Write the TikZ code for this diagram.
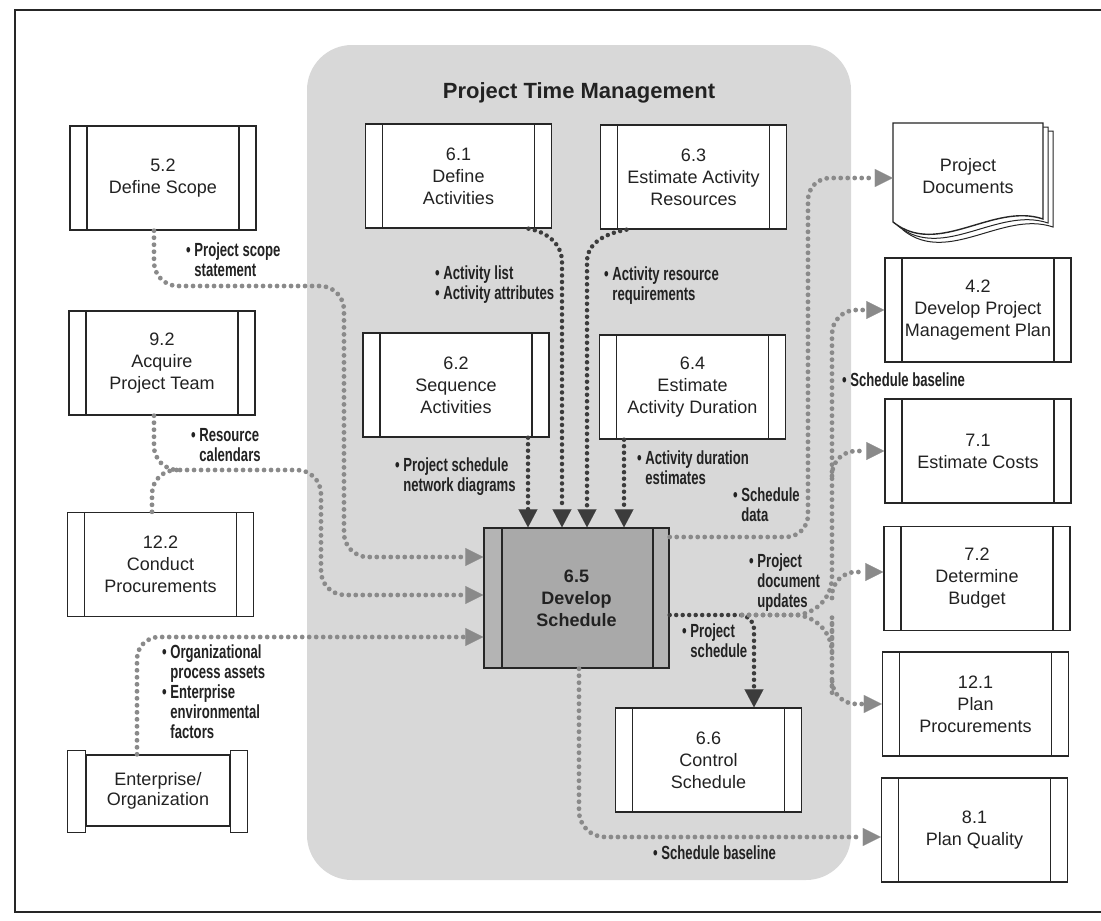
\documentclass[tikz,border=0pt]{standalone}
\usepackage{fontspec}
\setmainfont{Liberation Sans}
\newfontfamily\labfont{Liberation Sans}[FakeStretch=0.69]
\usetikzlibrary{arrows.meta,calc}
\definecolor{bg}{HTML}{D8D8D8}
\definecolor{ln}{HTML}{262626}
\definecolor{dk}{HTML}{3C3C3C}
\definecolor{gy}{HTML}{8A8A8A}
\definecolor{sc}{HTML}{A9A9A9}
\definecolor{scbar}{HTML}{B4B4B4}
\definecolor{txt}{HTML}{222222}
\begin{document}
\begin{tikzpicture}[x=1pt,y=-1pt,
 proc/.style={draw=ln, line width=1.4pt, fill=white, minimum width=186pt, minimum height=104pt,
   inner sep=0pt, align=center, text=txt, font=\fontsize{18}{22}\selectfont,
   path picture={
     \draw[ln, line width=1.4pt] ([xshift=17pt]path picture bounding box.north west) -- ([xshift=17pt]path picture bounding box.south west);
     \draw[ln, line width=1.4pt] ([xshift=-17pt]path picture bounding box.north east) -- ([xshift=-17pt]path picture bounding box.south east);}},
 proccore/.style={draw=ln, line width=1.4pt, fill=sc, minimum width=185pt, minimum height=140pt,
   inner sep=0pt, align=center, text=txt, font=\bfseries\fontsize{18}{22}\selectfont,
   path picture={
     \fill[scbar] (path picture bounding box.north west) rectangle ([xshift=18pt]path picture bounding box.south west);
     \fill[scbar] ([xshift=-16pt]path picture bounding box.north east) rectangle (path picture bounding box.south east);
     \draw[ln, line width=1.4pt] ([xshift=18pt]path picture bounding box.north west) -- ([xshift=18pt]path picture bounding box.south west);
     \draw[ln, line width=1.4pt] ([xshift=-16pt]path picture bounding box.north east) -- ([xshift=-16pt]path picture bounding box.south east);}},
 lab/.style={anchor=west, align=left, inner sep=0pt, text=txt, font=\labfont\bfseries\fontsize{19}{20}\selectfont},
 dflow/.style={draw=dk, line width=4.5pt, line cap=round, dash pattern=on 0pt off 6.5pt},
 gflow/.style={draw=gy, line width=4.8pt, line cap=round, dash pattern=on 0pt off 7pt},
 dtip/.style={-{Triangle[length=18pt,width=19pt,line width=0.1pt,color=dk,fill=dk]}},
 gtip/.style={-{Triangle[length=18pt,width=18pt,line width=0.1pt,color=gy,fill=gy]}},
]
\useasboundingbox (0,0) rectangle (1101,921);
\fill[white] (0,0) rectangle (1101,921);
% frame
\draw[line width=1.8pt, ln] (1101,10) -- (15,10) -- (15,912) -- (1101,912);
% process group background
\fill[bg, rounded corners=45pt] (307,45) rectangle (851,880);
\node[font=\bfseries\fontsize{22}{26}\selectfont, text=txt] (title) at (579,93) {Project Time Management};

% boxes
\node[proc] (d52) at (163,178) {5.2\\Define Scope};
\node[proc] (d92) at (162,363) {9.2\\Acquire\\Project Team};
\node[proc] (d122) at (160.5,564.5) {12.2\\Conduct\\Procurements};
\node[proc] (d61) at (458.5,176) {6.1\\Define\\Activities};
\node[proc] (d63) at (693.5,177) {6.3\\Estimate Activity\\Resources};
\node[proc] (d62) at (456,385) {6.2\\Sequence\\Activities};
\node[proc] (d64) at (692.5,387) {6.4\\Estimate\\Activity Duration};
\node[proccore] (d65) at (576.5,598) {6.5\\Develop\\Schedule};
\node[proc] (d66) at (708.5,760) {6.6\\Control\\Schedule};
\node[proc] (d42) at (978,310) {4.2\\Develop Project\\Management Plan};
\node[proc] (d71) at (978,451) {7.1\\Estimate Costs};
\node[proc] (d72) at (977,578.5) {7.2\\Determine\\Budget};
\node[proc] (d121) at (975.5,704) {12.1\\Plan\\Procurements};
\node[proc] (d81) at (974.5,830) {8.1\\Plan Quality};

% project documents (document shape)
\foreach \o/\p in {10/8,5/4}{
  \draw[ln, line width=1pt, fill=white, shift={(\o,\p)}] (893,123) -- (1043,123) -- (1043,219)
    .. controls (993,202) and (938,258) .. (893,222) -- cycle;
}
\draw[ln, line width=1.4pt, fill=white] (893,123) -- (1043,123) -- (1043,219)
    .. controls (993,202) and (938,258) .. (893,222) -- cycle;
\node[minimum width=150pt, inner sep=0pt, align=center, text=txt, font=\fontsize{18}{22}\selectfont] (pd) at (968,176) {Project\\Documents};

% enterprise / organization
\node[draw=ln, line width=1.4pt, fill=white, minimum width=144pt, minimum height=71pt, align=center,
  inner sep=0pt, text=txt, font=\fontsize{18}{20}\selectfont] (ent) at (158,790.5) {Enterprise/\\Organization};
\draw[ln, line width=1.4pt, fill=white] ($(ent.north west)+(-18,-4)$) rectangle ($(ent.south west)+(0,6)$);
\draw[ln, line width=1.4pt, fill=white] ($(ent.north east)+(0,-4)$) rectangle ($(ent.south east)+(17,6)$);

% inputs from the left
\coordinate (jA) at (344,286);
\coordinate (jB) at (321,470);
\coordinate (jC) at (182,470);
\draw[gflow, gtip, rounded corners=24pt] ([xshift=-9pt]d52.south) |- (jA) |- ([yshift=41pt]d65.west);
\draw[gflow, gtip, rounded corners=24pt] ([xshift=-8pt]d92.south) |- (jB) |- ([yshift=3pt]d65.west);
\draw[gflow, rounded corners=24pt] ([xshift=-8.5pt]d122.north) |- (jC);
\draw[gflow, gtip, rounded corners=22pt] ([xshift=-21pt]ent.north) |- ([yshift=-39pt]d65.west);

% inputs from the time management processes
\coordinate (jE) at (562,262);
\coordinate (jF) at (587,262);
\draw[dflow, dtip] ([xshift=70pt]d61.south) to[out=-10,in=90] (jE) -- ([xshift=-14.5pt]d65.north);
\draw[dflow, dtip] ([xshift=-67pt]d63.south) to[out=190,in=90] (jF) -- ([xshift=10.5pt]d65.north);
\draw[dflow, dtip] ([xshift=72pt]d62.south) -- ([xshift=-48.5pt]d65.north);
\draw[dflow, dtip] ([xshift=-68.5pt]d64.south) -- ([xshift=47.5pt]d65.north);

% outputs
\coordinate (jI) at (808,300);
\draw[gflow, gtip, rounded corners=22pt] ([yshift=61pt]d65.east) -| (jI) |- ([yshift=-2pt]pd.west);
\draw[dflow, dtip, rounded corners=14pt] ([yshift=-17pt]d65.east) -| ([xshift=45.5pt]d66.north);
\coordinate (jK) at (742,615);
\coordinate (jK1) at (832,450);
\coordinate (jK2) at (832,655);
\coordinate (jL1) at (832,476);
\coordinate (jL2) at (832,598);
\draw[gflow, gtip] (jK) [rounded corners=38pt] -| (jK1) [rounded corners=24pt] |- (d42.west);
\draw[gflow, gtip] (jK) [rounded corners=38pt] -| (jK2) [rounded corners=24pt] |- (d121.west);
\draw[gflow, gtip, rounded corners=24pt] (jL1) |- (d71.west);
\draw[gflow, gtip, rounded corners=24pt] (jL2) |- ([yshift=6.5pt]d72.west);
\draw[gflow, gtip, rounded corners=26pt] ([xshift=2.5pt]d65.south) |- ([yshift=-7pt]d81.west);

% labels
\node[lab] (l1) at (186,260) {• Project scope\\\hphantom{•\ }statement};
\node[lab] (l2) at (191,445) {• Resource\\\hphantom{•\ }calendars};
\node[lab] (l3) at (162,692) {• Organizational\\\hphantom{•\ }process assets\\• Enterprise\\\hphantom{•\ }environmental\\\hphantom{•\ }factors};
\node[lab] (l4) at (435,285) {• Activity list\\• Activity attributes};
\node[lab] (l5) at (604,286) {• Activity resource\\\hphantom{•\ }requirements};
\node[lab] (l6) at (395,477) {• Project schedule\\\hphantom{•\ }network diagrams};
\node[lab] (l7) at (637,468) {• Activity duration\\\hphantom{•\ }estimates};
\node[lab] (l8) at (733,505) {• Schedule\\\hphantom{•\ }data};
\node[lab] (l9) at (749,583) {• Project\\\hphantom{•\ }document\\\hphantom{•\ }updates};
\node[lab] (l10) at (682,641) {• Project\\\hphantom{•\ }schedule};
\node[lab] (l11) at (653,853) {• Schedule baseline};
\node[lab] (l12) at (842,380) {• Schedule baseline};
\end{tikzpicture}
\end{document}
